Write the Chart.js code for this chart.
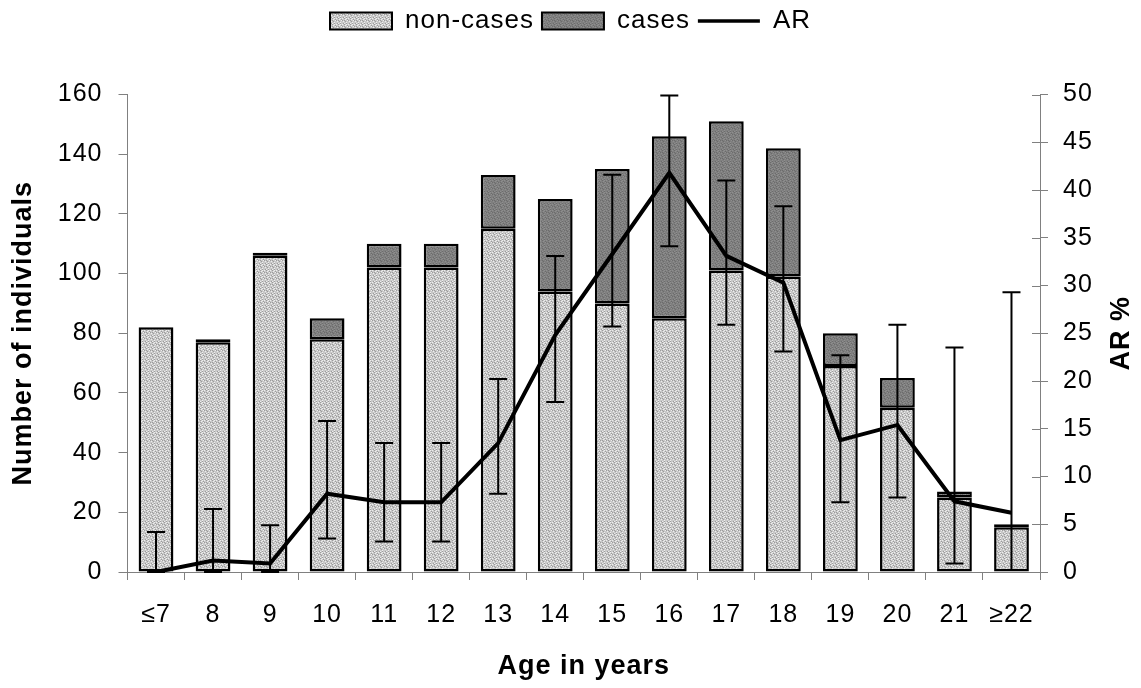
<!DOCTYPE html>
<html>
<head>
<meta charset="utf-8">
<script src="https://cdn.jsdelivr.net/npm/chart.js@4/dist/chart.umd.min.js"></script>
<style>
  html, body { margin: 0; padding: 0; background: #fff; }
  #wrap { width: 1141px; height: 688px; }
</style>
</head>
<body>
<div id="wrap"><canvas id="c" width="1141" height="688"></canvas></div>
<script>
// ---- data ----
const ageLabels = ['\u22647', '8', '9', '10', '11', '12', '13', '14', '15', '16', '17', '18', '19', '20', '21', '\u226522'];
const nonCases = [82, 77, 106, 78, 102, 102, 115, 94, 90, 85, 101, 99, 69, 55, 25, 15];
const cases    = [0, 1, 1, 7, 8, 8, 18, 31, 45, 61, 50, 43, 11, 10, 2, 1];
const attackRate = [0, 1.2, 0.9, 8.2, 7.3, 7.3, 13.5, 24.8, 33.3, 41.8, 33.1, 30.3, 13.8, 15.4, 7.4, 6.2];
const arLower  = [0, 0, 0, 3.5, 3.2, 3.2, 8.2, 17.8, 25.7, 34.1, 25.9, 23.1, 7.3, 7.8, 0.9, 0.2];
const arUpper  = [4.2, 6.6, 4.9, 15.8, 13.5, 13.5, 20.2, 33.1, 41.6, 49.9, 41.0, 38.3, 22.7, 25.9, 23.5, 29.3];
const countTicks = [0, 20, 40, 60, 80, 100, 120, 140, 160];
const arTicks = [0, 5, 10, 15, 20, 25, 30, 35, 40, 45, 50];

const FONT = "'Liberation Sans', Arial, Helvetica, sans-serif";
const AXIS_GREY = '#808080';

// stipple fill patterns (fixed dot layout)
function makePattern(base, light, dark) {
  const c = document.createElement('canvas');
  c.width = 6; c.height = 6;
  const g = c.getContext('2d');
  g.fillStyle = base; g.fillRect(0, 0, 6, 6);
  const lightDots = [[0,0],[3,1],[1,3],[4,4],[5,2],[2,5],[4,0]];
  const darkDots = [[2,0],[5,1],[0,2],[3,3],[1,5],[4,5],[2,2]];
  g.fillStyle = light; lightDots.forEach(p => g.fillRect(p[0], p[1], 1, 1));
  g.fillStyle = dark;  darkDots.forEach(p => g.fillRect(p[0], p[1], 1, 1));
  return g.createPattern(c, 'repeat');
}
const nonCasePattern = makePattern('#c8c8c8', '#eeeeee', '#9c9c9c');
const casePattern = makePattern('#7f7f7f', '#8f8f8f', '#6c6c6c');

const spacingPlugin = {
  id: 'spacing',
  beforeLayout(chart) { chart.ctx.letterSpacing = '1px'; },
  afterLayout(chart) {
    const lg = chart.legend;
    if (lg) {
      const h = lg.height;
      lg.top = 0;
      lg.bottom = h;
    }
  },
  beforeDraw(chart) { chart.ctx.letterSpacing = '1px'; }
};

const extrasPlugin = {
  id: 'extras',
  afterDatasetsDraw(chart) {
    const ctx = chart.ctx;
    const xs = chart.scales.x, y1 = chart.scales.y1;
    ctx.save();
    ctx.strokeStyle = '#000';
    ctx.lineWidth = 2;
    const cap = 9;
    for (let i = 0; i < ageLabels.length; i++) {
      const x = xs.getPixelForValue(i);
      const yl = y1.getPixelForValue(arLower[i]);
      const yu = y1.getPixelForValue(arUpper[i]);
      ctx.beginPath();
      ctx.moveTo(x, yl); ctx.lineTo(x, yu);
      ctx.moveTo(x - cap, yu); ctx.lineTo(x + cap, yu);
      ctx.moveTo(x - cap, yl); ctx.lineTo(x + cap, yl);
      ctx.stroke();
    }
    ctx.restore();
  },
  afterDraw(chart) {
    const ctx = chart.ctx;
    const y1 = chart.scales.y1;
    ctx.save();
    // inner half of right-axis tick marks
    ctx.strokeStyle = AXIS_GREY;
    ctx.lineWidth = 1;
    arTicks.forEach(v => {
      const y = Math.round(y1.getPixelForValue(v)) + 0.5;
      ctx.beginPath();
      ctx.moveTo(y1.left - 8, y); ctx.lineTo(y1.left, y);
      ctx.stroke();
    });
    // right axis title, reading bottom to top
    const ca = chart.chartArea;
    ctx.letterSpacing = '1px';
    ctx.translate(1122, (ca.top + ca.bottom) / 2);
    ctx.rotate(-Math.PI / 2);
    ctx.font = 'bold 27px ' + FONT;
    ctx.fillStyle = '#000';
    ctx.textAlign = 'center';
    ctx.textBaseline = 'middle';
    ctx.fillText('AR %', 0, 0);
    ctx.restore();
  }
};

new Chart(document.getElementById('c'), {
  type: 'bar',
  data: {
    labels: ageLabels,
    datasets: [
      {
        label: 'non-cases',
        data: nonCases,
        backgroundColor: nonCasePattern,
        borderColor: '#000',
        borderWidth: 2.5,
        borderSkipped: false,
        yAxisID: 'y',
        order: 2,
        barPercentage: 0.61,
        categoryPercentage: 1.0
      },
      {
        label: 'cases',
        data: cases,
        backgroundColor: casePattern,
        borderColor: '#000',
        borderWidth: 2.5,
        borderSkipped: false,
        yAxisID: 'y',
        order: 2,
        barPercentage: 0.61,
        categoryPercentage: 1.0
      },
      {
        type: 'line',
        label: 'AR',
        data: attackRate,
        borderColor: '#000',
        backgroundColor: '#000',
        borderWidth: 4,
        pointRadius: 0,
        tension: 0,
        yAxisID: 'y1',
        order: 1
      }
    ]
  },
  options: {
    responsive: false,
    animation: false,
    devicePixelRatio: 1,
    layout: { padding: 0 },
    plugins: {
      tooltip: { enabled: false },
      legend: {
        position: 'top',
        labels: {
          usePointStyle: true,
          pointStyleWidth: 62,
          boxHeight: 17,
          padding: 8,
          color: '#000',
          font: { family: FONT, size: 26 },
          sort: (a, b) => a.datasetIndex - b.datasetIndex,
          generateLabels(chart) {
            const items = Chart.defaults.plugins.legend.labels.generateLabels(chart);
            items.forEach(it => {
              if (it.datasetIndex === 2) {
                it.pointStyle = 'line';
                it.strokeStyle = '#000';
                it.lineWidth = 3.5;
              } else {
                it.pointStyle = 'rect';
                it.strokeStyle = '#000';
                it.lineWidth = 2;
              }
            });
            return items;
          }
        }
      }
    },
    scales: {
      x: {
        stacked: true,
        offset: true,
        grid: { display: true, offset: true, drawOnChartArea: false, color: AXIS_GREY, tickLength: 8, lineWidth: 1 },
        border: { display: true, color: AXIS_GREY, width: 1 },
        ticks: { color: '#000', font: { family: FONT, size: 25 }, padding: 20, maxRotation: 0, autoSkip: false },
        title: { display: true, text: 'Age in years', color: '#000', font: { family: FONT, size: 27, weight: 'bold' }, padding: { top: 0, bottom: 5 } },
        afterFit(s) { s.height = 116; }
      },
      y: {
        stacked: true,
        position: 'left',
        min: 0, max: 160,
        afterBuildTicks(s) { s.ticks = countTicks.map(v => ({ value: v })); },
        grid: { drawOnChartArea: false, color: AXIS_GREY, tickLength: 9 },
        border: { display: true, color: AXIS_GREY, width: 1 },
        ticks: { color: '#000', font: { family: FONT, size: 25 }, padding: 16 },
        title: { display: true, text: 'Number of individuals', color: '#000', font: { family: FONT, size: 27, weight: 'bold' }, padding: { top: 7, bottom: 0 } },
        afterFit(s) { s.width = 127.5; s.paddingTop = 94.5; }
      },
      y1: {
        position: 'right',
        min: 0, max: 50,
        afterBuildTicks(s) { s.ticks = arTicks.map(v => ({ value: v })); },
        grid: { drawOnChartArea: false, color: AXIS_GREY, tickLength: 8 },
        border: { display: true, color: AXIS_GREY, width: 1 },
        ticks: { color: '#000', font: { family: FONT, size: 25 }, padding: 15 },
        title: { display: false },
        afterFit(s) { s.width = 101; }
      }
    }
  },
  plugins: [spacingPlugin, extrasPlugin]
});
</script>
</body>
</html>
